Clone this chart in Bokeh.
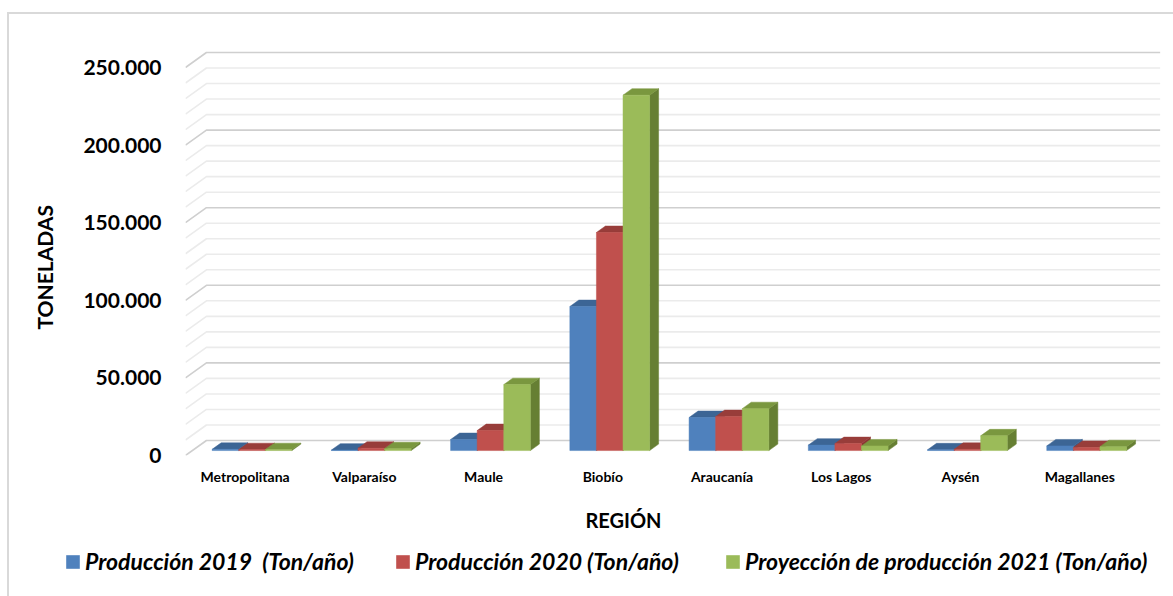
import numpy as np
from bokeh.plotting import figure
from bokeh.models import Range1d, FixedTicker, Legend, LegendItem, Title, Label
from bokeh.embed import file_html
from bokeh.resources import INLINE

# ---------------- data ----------------
regions = ["Metropolitana", "Valparaíso", "Maule", "Biobío", "Araucanía",
           "Los Lagos", "Aysén", "Magallanes"]
prod_2019 = [800, 300, 7100, 92800, 21300, 3500, 500, 3000]
prod_2020 = [600, 1500, 12900, 140500, 21900, 4500, 800, 2000]
proj_2021 = [600, 1200, 42500, 229000, 27000, 3000, 9500, 2500]
series_names = ["Producción 2019  (Ton/año)", "Producción 2020 (Ton/año)",
                "Proyección de producción 2021 (Ton/año)"]
y_ticks = [0, 50000, 100000, 150000, 200000, 250000]
y_tick_labels = ["0", "50.000", "100.000", "150.000", "200.000", "250.000"]
grid_step = 10000

# ---------------- style / layout ----------------
front_cols = ["#4f81bd", "#c0504d", "#9bbb59"]
top_cols = ["#3c6595", "#983d3a", "#7a973f"]
side_cols = ["#365b88", "#8a3533", "#667f33"]
FONT = "Lato"
BORDER = "#d9d9d9"

OX, OY = 9, 14                      # page offset of the chart area border
SPLIT = 496                          # page y where the lower strip starts
W = 1173 - OX
H1 = SPLIT - OY
H2 = 596 - SPLIT
FL, FR, FT, FB = 182, 1160, 40, 455  # frame in page px
PX_CAT = 119.6
PX_UNIT = 388 / 250000
DX_PX, DY_PX = 21, 15               # floor depth (oblique)
DXc = DX_PX / PX_CAT
DYv = DY_PX / PX_UNIT
F1, F2 = 0.33, 0.76                 # bar front/back depth fractions
GROUP = 80 / PX_CAT
BW = GROUP / 3

p = figure(width=W, height=H1, output_backend="svg", toolbar_location=None,
           x_range=Range1d(0, (FR - FL) / PX_CAT),
           y_range=Range1d(0, (FB - FT) / PX_UNIT),
           min_border_left=FL - OX, min_border_right=OX + W - FR,
           min_border_top=FT - OY, min_border_bottom=SPLIT - FB,
           background_fill_color="white", border_fill_color="white")
p.margin = (OY, 0, 0, OX)
p.styles = {"box-shadow": f"-2px 0px 0px 0px {BORDER}, 0px -2px 0px 0px {BORDER}, -2px -2px 0px 0px {BORDER}"}
p.outline_line_color = None
p.xgrid.visible = False
p.ygrid.visible = False

# ---------------- gridlines (back wall + left wall) ----------------
n_cat = len(regions)
for major in (False, True):
    xs, ys = [], []
    for v in range(0, y_ticks[-1] + 1, grid_step):
        if (v % 50000 == 0) != major:
            continue
        xs.append([0, DXc, n_cat + DXc])
        ys.append([v, v + DYv, v + DYv])
    p.multi_line(xs, ys, line_color="#cfcfcf" if major else "#ebebeb",
                 line_width=1.6)

# ---------------- 3D bars ----------------
series = [prod_2019, prod_2020, proj_2021]
pxs, pys, pcols = [], [], []
ddx, ddy = (F2 - F1) * DXc, (F2 - F1) * DYv
for i in range(n_cat):
    for k, vals in enumerate(series):
        v = vals[i]
        x0 = i + (1 - GROUP) / 2 + k * BW + F1 * DXc
        x1 = x0 + BW
        y0 = F1 * DYv
        y1 = y0 + v
        pxs.append([x1, x1 + ddx, x1 + ddx, x1]); pys.append([y0, y0 + ddy, y1 + ddy, y1]); pcols.append(side_cols[k])
        pxs.append([x0, x1, x1 + ddx, x0 + ddx]); pys.append([y1, y1, y1 + ddy, y1 + ddy]); pcols.append(top_cols[k])
        pxs.append([x0, x1, x1, x0]); pys.append([y0, y0, y1, y1]); pcols.append(front_cols[k])
p.patches(pxs, pys, fill_color=pcols, line_color=pcols, line_width=0.5)

# ---------------- axes ----------------
p.yaxis.ticker = FixedTicker(ticks=y_ticks)
p.yaxis.major_label_overrides = {t: s for t, s in zip(y_ticks, y_tick_labels)}
p.xaxis.ticker = FixedTicker(ticks=[i + 0.5 for i in range(n_cat)])
p.xaxis.major_label_overrides = {i + 0.5: r for i, r in enumerate(regions)}
for ax in (p.xaxis, p.yaxis):
    ax.axis_line_color = None
    ax.major_tick_line_color = None
    ax.minor_tick_line_color = None
    ax.major_tick_out = 0
    ax.major_label_text_font = FONT
    ax.major_label_text_font_style = "bold"
    ax.major_label_text_color = "black"
p.yaxis.major_label_text_font_size = "21px"
p.yaxis.major_label_standoff = 24
p.xaxis.major_label_text_font_size = "14px"
p.xaxis.major_label_standoff = 12

p.add_layout(Title(text="TONELADAS", align="left", offset=126, standoff=44,
                   vertical_align="top",
                   text_font=FONT, text_font_style="bold", text_font_size="21px",
                   text_color="black"), "left")

# ---------------- lower strip: x title + legend ----------------
q = figure(width=W, height=H2, output_backend="svg", toolbar_location=None,
           x_range=Range1d(0, W), y_range=Range1d(0, H2),
           x_axis_type=None, y_axis_type=None,
           min_border=0, min_border_left=0, min_border_right=0,
           min_border_top=0, min_border_bottom=0,
           background_fill_color="white", border_fill_color="white")
q.margin = (0, 0, 0, OX)
q.styles = {"box-shadow": f"-2px 0px 0px 0px {BORDER}"}
q.grid.visible = False
q.outline_line_color = None

q.add_layout(Label(x=623 - OX, y=596 - 519, text="REGIÓN", text_align="center",
                   text_baseline="middle", text_font=FONT, text_font_style="bold",
                   text_font_size="20px", text_color="black"))

items = []
for k in range(3):
    # legend-only swatch: a single quad placed outside the visible range
    r = q.quad(left=[-50], right=[-40], top=[-40], bottom=[-50],
               fill_color=front_cols[k], line_color=None)
    items.append(LegendItem(label=series_names[k], renderers=[r]))
lg = Legend(items=items, location=(64 - OX, 596 - 575), orientation="horizontal",
            glyph_width=17, glyph_height=17, label_standoff=4, label_width=309,
            spacing=0, padding=0, margin=0, border_line_color=None,
            background_fill_alpha=0,
            label_text_font=FONT, label_text_font_style="bold italic",
            label_text_font_size="23px", label_text_color="black")
q.add_layout(lg, "center")

open("out.html", "w").write(file_html([p, q], INLINE))
